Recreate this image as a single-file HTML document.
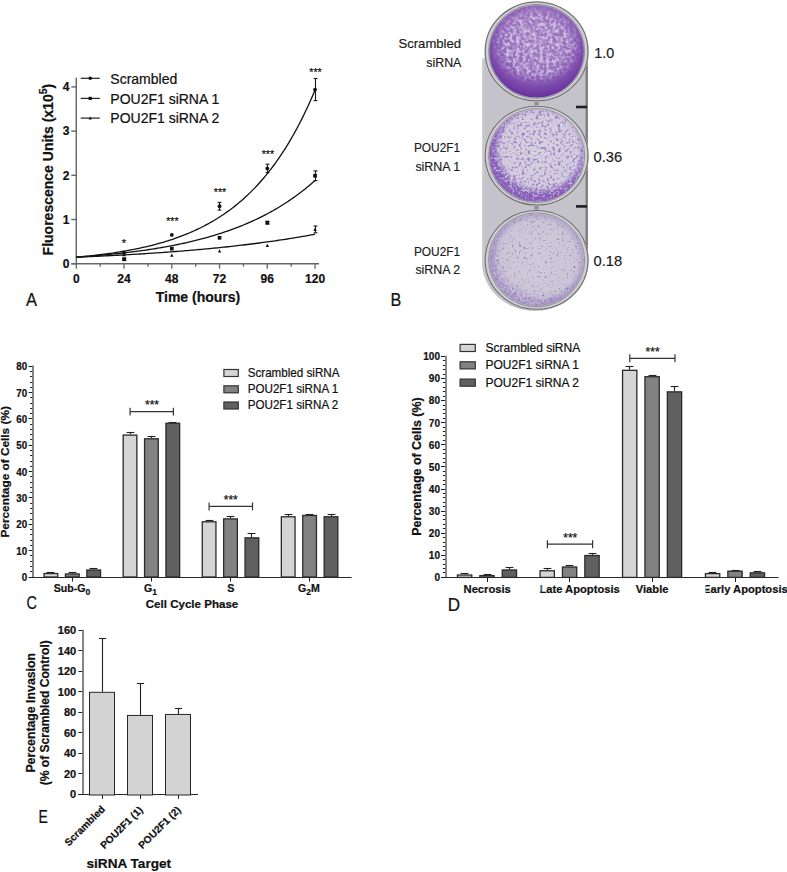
<!DOCTYPE html>
<html><head><meta charset="utf-8"><style>
html,body{margin:0;padding:0;background:#fff;width:787px;height:872px;overflow:hidden}
svg{display:block;font-family:"Liberation Sans", sans-serif}
text{stroke:#111;stroke-width:0.22px;paint-order:stroke}
text.cal{stroke-width:0.16px}
</style></head><body>
<svg width="787" height="872" viewBox="0 0 787 872">
<rect width="787" height="872" fill="#fff"/>
<line x1="76.30" y1="77.80" x2="76.30" y2="264.40" stroke="#666" stroke-width="1.45"/>
<line x1="71.30" y1="263.70" x2="319.00" y2="263.70" stroke="#666" stroke-width="1.45"/>
<line x1="71.30" y1="263.70" x2="76.30" y2="263.70" stroke="#666" stroke-width="1.4"/>
<text x="69.50" y="268.00" font-size="12" font-weight="bold" text-anchor="end" fill="#111" >0</text>
<line x1="71.30" y1="219.50" x2="76.30" y2="219.50" stroke="#666" stroke-width="1.4"/>
<text x="69.50" y="223.80" font-size="12" font-weight="bold" text-anchor="end" fill="#111" >1</text>
<line x1="71.30" y1="175.30" x2="76.30" y2="175.30" stroke="#666" stroke-width="1.4"/>
<text x="69.50" y="179.60" font-size="12" font-weight="bold" text-anchor="end" fill="#111" >2</text>
<line x1="71.30" y1="131.10" x2="76.30" y2="131.10" stroke="#666" stroke-width="1.4"/>
<text x="69.50" y="135.40" font-size="12" font-weight="bold" text-anchor="end" fill="#111" >3</text>
<line x1="71.30" y1="86.90" x2="76.30" y2="86.90" stroke="#666" stroke-width="1.4"/>
<text x="69.50" y="91.20" font-size="12" font-weight="bold" text-anchor="end" fill="#111" >4</text>
<line x1="76.30" y1="263.70" x2="76.30" y2="268.70" stroke="#666" stroke-width="1.3"/>
<text x="76.30" y="283.20" font-size="12" font-weight="bold" text-anchor="middle" fill="#111" >0</text>
<line x1="100.17" y1="263.70" x2="100.17" y2="266.70" stroke="#666" stroke-width="1.3"/>
<line x1="124.05" y1="263.70" x2="124.05" y2="268.70" stroke="#666" stroke-width="1.3"/>
<text x="124.05" y="283.20" font-size="12" font-weight="bold" text-anchor="middle" fill="#111" >24</text>
<line x1="147.93" y1="263.70" x2="147.93" y2="266.70" stroke="#666" stroke-width="1.3"/>
<line x1="171.80" y1="263.70" x2="171.80" y2="268.70" stroke="#666" stroke-width="1.3"/>
<text x="171.80" y="283.20" font-size="12" font-weight="bold" text-anchor="middle" fill="#111" >48</text>
<line x1="195.68" y1="263.70" x2="195.68" y2="266.70" stroke="#666" stroke-width="1.3"/>
<line x1="219.55" y1="263.70" x2="219.55" y2="268.70" stroke="#666" stroke-width="1.3"/>
<text x="219.55" y="283.20" font-size="12" font-weight="bold" text-anchor="middle" fill="#111" >72</text>
<line x1="243.43" y1="263.70" x2="243.43" y2="266.70" stroke="#666" stroke-width="1.3"/>
<line x1="267.30" y1="263.70" x2="267.30" y2="268.70" stroke="#666" stroke-width="1.3"/>
<text x="267.30" y="283.20" font-size="12" font-weight="bold" text-anchor="middle" fill="#111" >96</text>
<line x1="291.18" y1="263.70" x2="291.18" y2="266.70" stroke="#666" stroke-width="1.3"/>
<line x1="315.05" y1="263.70" x2="315.05" y2="268.70" stroke="#666" stroke-width="1.3"/>
<text x="315.05" y="283.20" font-size="12" font-weight="bold" text-anchor="middle" fill="#111" >120</text>
<text transform="translate(52.5,169.6) rotate(-90)" font-size="14" font-weight="bold" text-anchor="middle" fill="#111">Fluorescence Units (x10<tspan font-size="10.5" dy="-6">5</tspan><tspan dy="6">)</tspan></text>
<text x="198.00" y="301.70" font-size="14" font-weight="bold" text-anchor="middle" fill="#111" >Time (hours)</text>
<text transform="translate(26.1,306.0) scale(0.92,1)" font-size="18" fill="#111" stroke="#111" stroke-width="0.21">A</text>
<polyline points="76.30,257.20 78.29,257.02 80.28,256.84 82.27,256.65 84.26,256.45 86.25,256.25 88.24,256.04 90.23,255.83 92.22,255.61 94.21,255.39 96.20,255.16 98.19,254.92 100.17,254.68 102.16,254.42 104.15,254.17 106.14,253.90 108.13,253.63 110.12,253.35 112.11,253.06 114.10,252.77 116.09,252.47 118.08,252.15 120.07,251.83 122.06,251.50 124.05,251.17 126.04,250.82 128.03,250.46 130.02,250.09 132.01,249.71 134.00,249.33 135.99,248.93 137.98,248.52 139.97,248.10 141.96,247.66 143.95,247.22 145.94,246.76 147.93,246.29 149.91,245.81 151.90,245.31 153.89,244.80 155.88,244.27 157.87,243.73 159.86,243.18 161.85,242.61 163.84,242.03 165.83,241.42 167.82,240.81 169.81,240.17 171.80,239.52 173.79,238.85 175.78,238.16 177.77,237.45 179.76,236.72 181.75,235.97 183.74,235.20 185.73,234.41 187.72,233.60 189.71,232.76 191.70,231.90 193.69,231.02 195.68,230.11 197.66,229.18 199.65,228.22 201.64,227.24 203.63,226.22 205.62,225.18 207.61,224.11 209.60,223.01 211.59,221.89 213.58,220.72 215.57,219.53 217.56,218.31 219.55,217.05 221.54,215.75 223.53,214.42 225.52,213.05 227.51,211.65 229.50,210.20 231.49,208.72 233.48,207.19 235.47,205.62 237.46,204.01 239.45,202.35 241.44,200.65 243.43,198.90 245.41,197.10 247.40,195.25 249.39,193.35 251.38,191.40 253.37,189.39 255.36,187.33 257.35,185.21 259.34,183.03 261.33,180.79 263.32,178.49 265.31,176.12 267.30,173.69 269.29,171.20 271.28,168.63 273.27,165.99 275.26,163.28 277.25,160.49 279.24,157.62 281.23,154.68 283.22,151.65 285.21,148.54 287.20,145.35 289.19,142.06 291.18,138.68 293.16,135.21 295.15,131.65 297.14,127.98 299.13,124.21 301.12,120.34 303.11,116.36 305.10,112.27 307.09,108.07 309.08,103.75 311.07,99.31 313.06,94.75 315.05,90.06" fill="none" stroke="#111" stroke-width="1.3"/>
<polyline points="76.30,257.20 78.29,257.06 80.28,256.92 82.27,256.78 84.26,256.63 86.25,256.47 88.24,256.32 90.23,256.16 92.22,256.00 94.21,255.83 96.20,255.67 98.19,255.49 100.17,255.32 102.16,255.14 104.15,254.95 106.14,254.76 108.13,254.57 110.12,254.38 112.11,254.18 114.10,253.97 116.09,253.76 118.08,253.55 120.07,253.33 122.06,253.11 124.05,252.88 126.04,252.65 128.03,252.41 130.02,252.17 132.01,251.92 134.00,251.67 135.99,251.41 137.98,251.15 139.97,250.88 141.96,250.60 143.95,250.32 145.94,250.04 147.93,249.74 149.91,249.44 151.90,249.14 153.89,248.82 155.88,248.50 157.87,248.18 159.86,247.85 161.85,247.50 163.84,247.16 165.83,246.80 167.82,246.44 169.81,246.07 171.80,245.69 173.79,245.30 175.78,244.91 177.77,244.51 179.76,244.09 181.75,243.67 183.74,243.24 185.73,242.80 187.72,242.35 189.71,241.90 191.70,241.43 193.69,240.95 195.68,240.46 197.66,239.96 199.65,239.45 201.64,238.93 203.63,238.40 205.62,237.86 207.61,237.30 209.60,236.74 211.59,236.16 213.58,235.57 215.57,234.96 217.56,234.35 219.55,233.72 221.54,233.07 223.53,232.41 225.52,231.74 227.51,231.06 229.50,230.36 231.49,229.64 233.48,228.91 235.47,228.16 237.46,227.40 239.45,226.62 241.44,225.82 243.43,225.01 245.41,224.18 247.40,223.33 249.39,222.47 251.38,221.58 253.37,220.68 255.36,219.75 257.35,218.81 259.34,217.85 261.33,216.86 263.32,215.86 265.31,214.83 267.30,213.78 269.29,212.71 271.28,211.61 273.27,210.49 275.26,209.35 277.25,208.19 279.24,206.99 281.23,205.78 283.22,204.53 285.21,203.26 287.20,201.97 289.19,200.64 291.18,199.29 293.16,197.90 295.15,196.49 297.14,195.05 299.13,193.57 301.12,192.07 303.11,190.53 305.10,188.96 307.09,187.36 309.08,185.72 311.07,184.04 313.06,182.33 315.05,180.59" fill="none" stroke="#111" stroke-width="1.3"/>
<polyline points="76.30,257.20 78.29,257.12 80.28,257.04 82.27,256.95 84.26,256.87 86.25,256.78 88.24,256.69 90.23,256.60 92.22,256.51 94.21,256.42 96.20,256.33 98.19,256.24 100.17,256.14 102.16,256.05 104.15,255.95 106.14,255.85 108.13,255.75 110.12,255.65 112.11,255.55 114.10,255.45 116.09,255.34 118.08,255.23 120.07,255.13 122.06,255.02 124.05,254.91 126.04,254.80 128.03,254.68 130.02,254.57 132.01,254.45 134.00,254.34 135.99,254.22 137.98,254.10 139.97,253.98 141.96,253.85 143.95,253.73 145.94,253.60 147.93,253.47 149.91,253.34 151.90,253.21 153.89,253.08 155.88,252.94 157.87,252.81 159.86,252.67 161.85,252.53 163.84,252.39 165.83,252.25 167.82,252.10 169.81,251.95 171.80,251.80 173.79,251.65 175.78,251.50 177.77,251.35 179.76,251.19 181.75,251.03 183.74,250.87 185.73,250.71 187.72,250.54 189.71,250.38 191.70,250.21 193.69,250.04 195.68,249.86 197.66,249.69 199.65,249.51 201.64,249.33 203.63,249.15 205.62,248.96 207.61,248.78 209.60,248.59 211.59,248.39 213.58,248.20 215.57,248.00 217.56,247.81 219.55,247.60 221.54,247.40 223.53,247.19 225.52,246.98 227.51,246.77 229.50,246.56 231.49,246.34 233.48,246.12 235.47,245.90 237.46,245.67 239.45,245.44 241.44,245.21 243.43,244.98 245.41,244.74 247.40,244.50 249.39,244.25 251.38,244.01 253.37,243.76 255.36,243.51 257.35,243.25 259.34,242.99 261.33,242.73 263.32,242.46 265.31,242.19 267.30,241.92 269.29,241.64 271.28,241.36 273.27,241.08 275.26,240.79 277.25,240.50 279.24,240.21 281.23,239.91 283.22,239.61 285.21,239.30 287.20,239.00 289.19,238.68 291.18,238.36 293.16,238.04 295.15,237.72 297.14,237.39 299.13,237.05 301.12,236.72 303.11,236.37 305.10,236.03 307.09,235.68 309.08,235.32 311.07,234.96 313.06,234.60 315.05,234.23" fill="none" stroke="#111" stroke-width="1.3"/>
<circle cx="124.05" cy="252.65" r="1.9" fill="#111"/>
<circle cx="171.80" cy="234.97" r="1.9" fill="#111"/>
<line x1="219.50" y1="202.39" x2="219.50" y2="210.09" stroke="#1a1a1a" stroke-width="1.1"/>
<line x1="217.60" y1="202.39" x2="221.40" y2="202.39" stroke="#1a1a1a" stroke-width="1.1"/>
<line x1="217.60" y1="210.09" x2="221.40" y2="210.09" stroke="#1a1a1a" stroke-width="1.1"/>
<circle cx="219.55" cy="206.24" r="1.9" fill="#111"/>
<line x1="267.50" y1="164.21" x2="267.50" y2="172.60" stroke="#1a1a1a" stroke-width="1.1"/>
<line x1="265.60" y1="164.21" x2="269.40" y2="164.21" stroke="#1a1a1a" stroke-width="1.1"/>
<line x1="265.60" y1="172.60" x2="269.40" y2="172.60" stroke="#1a1a1a" stroke-width="1.1"/>
<circle cx="267.30" cy="168.40" r="1.9" fill="#111"/>
<line x1="315.50" y1="78.50" x2="315.50" y2="100.60" stroke="#1a1a1a" stroke-width="1.1"/>
<line x1="313.60" y1="78.50" x2="317.40" y2="78.50" stroke="#1a1a1a" stroke-width="1.1"/>
<line x1="313.60" y1="100.60" x2="317.40" y2="100.60" stroke="#1a1a1a" stroke-width="1.1"/>
<circle cx="315.05" cy="89.55" r="1.9" fill="#111"/>
<line x1="124.50" y1="258.18" x2="124.50" y2="260.38" stroke="#1a1a1a" stroke-width="1.1"/>
<line x1="122.50" y1="258.18" x2="126.50" y2="258.18" stroke="#1a1a1a" stroke-width="1.1"/>
<line x1="122.50" y1="260.38" x2="126.50" y2="260.38" stroke="#1a1a1a" stroke-width="1.1"/>
<rect x="122.20" y="257.43" width="3.7" height="3.7" fill="#111"/>
<rect x="169.95" y="246.82" width="3.7" height="3.7" fill="#111"/>
<rect x="217.70" y="235.95" width="3.7" height="3.7" fill="#111"/>
<line x1="267.50" y1="221.36" x2="267.50" y2="224.01" stroke="#1a1a1a" stroke-width="1.1"/>
<line x1="265.50" y1="221.36" x2="269.50" y2="221.36" stroke="#1a1a1a" stroke-width="1.1"/>
<line x1="265.50" y1="224.01" x2="269.50" y2="224.01" stroke="#1a1a1a" stroke-width="1.1"/>
<rect x="265.45" y="220.83" width="3.7" height="3.7" fill="#111"/>
<line x1="315.50" y1="170.88" x2="315.50" y2="180.60" stroke="#1a1a1a" stroke-width="1.1"/>
<line x1="313.50" y1="170.88" x2="317.50" y2="170.88" stroke="#1a1a1a" stroke-width="1.1"/>
<line x1="313.50" y1="180.60" x2="317.50" y2="180.60" stroke="#1a1a1a" stroke-width="1.1"/>
<rect x="313.20" y="173.89" width="3.7" height="3.7" fill="#111"/>
<polygon points="124.05,253.06 122.35,256.36 125.75,256.36" fill="#111"/>
<polygon points="171.80,253.50 170.10,256.80 173.50,256.80" fill="#111"/>
<polygon points="219.55,249.21 217.85,252.51 221.25,252.51" fill="#111"/>
<polygon points="267.30,243.78 265.60,247.08 269.00,247.08" fill="#111"/>
<line x1="315.50" y1="226.00" x2="315.50" y2="232.80" stroke="#1a1a1a" stroke-width="1.1"/>
<line x1="313.60" y1="226.00" x2="317.40" y2="226.00" stroke="#1a1a1a" stroke-width="1.1"/>
<line x1="313.60" y1="232.80" x2="317.40" y2="232.80" stroke="#1a1a1a" stroke-width="1.1"/>
<polygon points="315.05,227.60 313.35,230.90 316.75,230.90" fill="#111"/>
<text x="123.90" y="247.30" font-size="11" font-weight="normal" text-anchor="middle" fill="#111" stroke="#111" stroke-width="0.35">*</text>
<text x="172.40" y="225.36" font-size="10.6" font-weight="normal" text-anchor="middle" fill="#111" stroke="#111" stroke-width="0.35">***</text>
<text x="220.00" y="196.46" font-size="10.6" font-weight="normal" text-anchor="middle" fill="#111" stroke="#111" stroke-width="0.35">***</text>
<text x="267.90" y="158.26" font-size="10.6" font-weight="normal" text-anchor="middle" fill="#111" stroke="#111" stroke-width="0.35">***</text>
<text x="315.50" y="76.26" font-size="10.6" font-weight="normal" text-anchor="middle" fill="#111" stroke="#111" stroke-width="0.35">***</text>
<line x1="80.70" y1="78.30" x2="99.80" y2="78.30" stroke="#222" stroke-width="1.2"/>
<circle cx="90.20" cy="78.30" r="1.8" fill="#111"/>
<line x1="80.70" y1="98.40" x2="99.80" y2="98.40" stroke="#222" stroke-width="1.2"/>
<rect x="88.60" y="96.80" width="3.2" height="3.2" fill="#111"/>
<line x1="80.70" y1="118.10" x2="99.80" y2="118.10" stroke="#222" stroke-width="1.2"/>
<polygon points="90.20,116.40 88.60,119.50 91.80,119.50" fill="#111"/>
<text x="110.30" y="83.60" font-size="14" font-weight="normal" text-anchor="start" fill="#111" >Scrambled</text>
<text x="110.30" y="103.70" font-size="14" font-weight="normal" text-anchor="start" fill="#111" >POU2F1 siRNA 1</text>
<text x="110.30" y="123.40" font-size="14" font-weight="normal" text-anchor="start" fill="#111" >POU2F1 siRNA 2</text>
<defs>
<radialGradient id="g1" cx="50%" cy="38%" r="60%"><stop offset="0" stop-color="rgb(160,125,195)"/><stop offset="0.55" stop-color="rgb(150,110,188)"/><stop offset="0.8" stop-color="rgb(128,80,175)"/><stop offset="1" stop-color="rgb(108,52,160)"/></radialGradient>
<radialGradient id="g2" cx="52%" cy="46%" r="52%"><stop offset="0" stop-color="rgb(214,209,225)"/><stop offset="0.8" stop-color="rgb(210,204,222)"/><stop offset="0.95" stop-color="rgb(185,165,210)"/><stop offset="1" stop-color="rgb(160,125,198)"/></radialGradient>
<radialGradient id="ring2" cx="54%" cy="42%" r="53%"><stop offset="0" stop-color="#000"/><stop offset="0.78" stop-color="#000"/><stop offset="0.95" stop-color="#fff"/><stop offset="1" stop-color="#fff"/></radialGradient>
<mask id="mr2" maskContentUnits="userSpaceOnUse"><ellipse cx="536.6" cy="155.6" rx="47.2" ry="46.2" fill="url(#ring2)"/></mask>
<radialGradient id="ring3" cx="56%" cy="42%" r="54%"><stop offset="0" stop-color="#000"/><stop offset="0.8" stop-color="#000"/><stop offset="0.97" stop-color="#fff"/></radialGradient>
<mask id="mr3" maskContentUnits="userSpaceOnUse"><ellipse cx="536.6" cy="259.9" rx="47.2" ry="46.2" fill="url(#ring3)"/></mask>
<radialGradient id="g3" cx="50%" cy="50%" r="50%"><stop offset="0" stop-color="rgb(208,203,218)"/><stop offset="0.85" stop-color="rgb(203,197,215)"/><stop offset="1" stop-color="rgb(178,165,202)"/></radialGradient>
<filter id="mott1" x="0" y="0" width="100%" height="100%" color-interpolation-filters="sRGB"><feTurbulence type="fractalNoise" baseFrequency="0.3" numOctaves="3" seed="3"/><feColorMatrix type="matrix" values="0 0 0 0 0.84  0 0 0 0 0.78  0 0 0 0 0.90  3.2 0 0 0 -1.2"/><feComposite in2="SourceGraphic" operator="in"/></filter>
<filter id="mott2" x="0" y="0" width="100%" height="100%" color-interpolation-filters="sRGB"><feTurbulence type="fractalNoise" baseFrequency="0.36" numOctaves="2" seed="7"/><feColorMatrix type="matrix" values="0 0 0 0 0.60  0 0 0 0 0.48  0 0 0 0 0.76  5.0 0 0 0 -2.6"/><feComposite in2="SourceGraphic" operator="in"/></filter>
<filter id="mott2b" x="0" y="0" width="100%" height="100%" color-interpolation-filters="sRGB"><feTurbulence type="fractalNoise" baseFrequency="0.4" numOctaves="2" seed="17"/><feColorMatrix type="matrix" values="0 0 0 0 0.52  0 0 0 0 0.36  0 0 0 0 0.72  5.0 0 0 0 -1.7"/><feComposite in2="SourceGraphic" operator="in"/></filter>
<filter id="mott3" x="0" y="0" width="100%" height="100%" color-interpolation-filters="sRGB"><feTurbulence type="fractalNoise" baseFrequency="0.42" numOctaves="2" seed="11"/><feColorMatrix type="matrix" values="0 0 0 0 0.52  0 0 0 0 0.46  0 0 0 0 0.64  4.5 0 0 0 -2.75"/><feComposite in2="SourceGraphic" operator="in"/></filter>
<radialGradient id="fade"><stop offset="0" stop-color="#fff"/><stop offset="0.7" stop-color="#fff"/><stop offset="1" stop-color="#000"/></radialGradient>
<mask id="m1" maskContentUnits="userSpaceOnUse"><ellipse cx="536.6" cy="45" rx="46" ry="40" fill="url(#fade)"/></mask>
</defs>
<path d="M482,70 Q482,56 490,54 L580,54 Q588,56 588,70 L588,262 A53,49 0 0 1 482,262 Z" fill="rgb(196,195,201)"/>
<rect x="585.6" y="58" width="2.2" height="210" fill="rgb(120,120,126)"/>
<rect x="482" y="58" width="1.6" height="210" fill="rgb(205,205,210)"/>
<ellipse cx="536.6" cy="51.4" rx="52.3" ry="50.3" fill="rgb(206,206,210)"/>
<ellipse cx="536.6" cy="51.4" rx="51.4" ry="49.4" fill="none" stroke="rgb(110,110,116)" stroke-width="1.1"/>
<ellipse cx="536.6" cy="51.4" rx="48.0" ry="47.0" fill="none" stroke="rgb(135,135,140)" stroke-width="0.9"/>
<ellipse cx="536.6" cy="155.6" rx="52.3" ry="50.3" fill="rgb(206,206,210)"/>
<ellipse cx="536.6" cy="155.6" rx="51.4" ry="49.4" fill="none" stroke="rgb(110,110,116)" stroke-width="1.1"/>
<ellipse cx="536.6" cy="155.6" rx="48.0" ry="47.0" fill="none" stroke="rgb(135,135,140)" stroke-width="0.9"/>
<ellipse cx="536.6" cy="259.9" rx="52.3" ry="50.3" fill="rgb(206,206,210)"/>
<ellipse cx="536.6" cy="259.9" rx="51.4" ry="49.4" fill="none" stroke="rgb(110,110,116)" stroke-width="1.1"/>
<ellipse cx="536.6" cy="259.9" rx="48.0" ry="47.0" fill="none" stroke="rgb(135,135,140)" stroke-width="0.9"/>
<rect x="534.5" y="101.8" width="4" height="3.6" fill="rgb(140,140,145)"/>
<rect x="534.5" y="206.0" width="4" height="3.6" fill="rgb(140,140,145)"/>
<rect x="576" y="105.7" width="11" height="2.6" fill="rgb(30,30,30)"/>
<rect x="576" y="205.1" width="11" height="2.6" fill="rgb(30,30,30)"/>
<ellipse cx="536.6" cy="51.4" rx="47.2" ry="46.2" fill="url(#g1)"/>
<g mask="url(#m1)"><ellipse cx="536.6" cy="51.4" rx="47" ry="46" fill="#fff" filter="url(#mott1)" opacity="0.9"/></g>
<ellipse cx="536.6" cy="155.6" rx="47.2" ry="46.2" fill="url(#g2)"/>
<ellipse cx="536.6" cy="155.6" rx="47" ry="46" fill="#fff" filter="url(#mott2)" opacity="0.95"/>
<g mask="url(#mr2)"><ellipse cx="536.6" cy="155.6" rx="47.2" ry="46.2" fill="#fff" filter="url(#mott2b)"/></g>
<ellipse cx="536.6" cy="259.9" rx="47.2" ry="46.2" fill="url(#g3)"/>
<ellipse cx="536.6" cy="259.9" rx="47" ry="46" fill="#fff" filter="url(#mott3)" opacity="0.9"/>
<g mask="url(#mr3)" opacity="0.35"><ellipse cx="536.6" cy="259.9" rx="47.2" ry="46.2" fill="#fff" filter="url(#mott2b)"/></g>
<text x="461.00" y="48.30" font-size="13" font-weight="normal" text-anchor="end" fill="#1a1a1a" textLength="62.5" lengthAdjust="spacingAndGlyphs" class="cal">Scrambled</text>
<text x="461.30" y="66.60" font-size="13" font-weight="normal" text-anchor="end" fill="#1a1a1a" textLength="35" lengthAdjust="spacingAndGlyphs" class="cal">siRNA</text>
<text x="460.20" y="152.30" font-size="13" font-weight="normal" text-anchor="end" fill="#1a1a1a" textLength="46.3" lengthAdjust="spacingAndGlyphs" class="cal">POU2F1</text>
<text x="460.20" y="170.60" font-size="13" font-weight="normal" text-anchor="end" fill="#1a1a1a" textLength="44.8" lengthAdjust="spacingAndGlyphs" class="cal">siRNA 1</text>
<text x="460.20" y="256.30" font-size="13" font-weight="normal" text-anchor="end" fill="#1a1a1a" textLength="46.3" lengthAdjust="spacingAndGlyphs" class="cal">POU2F1</text>
<text x="460.20" y="274.40" font-size="13" font-weight="normal" text-anchor="end" fill="#1a1a1a" textLength="44.8" lengthAdjust="spacingAndGlyphs" class="cal">siRNA 2</text>
<text x="594.30" y="58.40" font-size="15" font-weight="normal" text-anchor="start" fill="#1a1a1a" textLength="20" lengthAdjust="spacingAndGlyphs" class="cal">1.0</text>
<text x="593.60" y="162.10" font-size="15" font-weight="normal" text-anchor="start" fill="#1a1a1a" textLength="28.6" lengthAdjust="spacingAndGlyphs" class="cal">0.36</text>
<text x="593.60" y="265.90" font-size="15" font-weight="normal" text-anchor="start" fill="#1a1a1a" textLength="28.6" lengthAdjust="spacingAndGlyphs" class="cal">0.18</text>
<text transform="translate(390.4,305.8) scale(0.9,1)" font-size="18" fill="#111" stroke="#111" stroke-width="0.22">B</text>
<line x1="33.00" y1="365.60" x2="33.00" y2="577.00" stroke="#858585" stroke-width="2.0"/>
<line x1="32.00" y1="577.50" x2="351.60" y2="577.50" stroke="#2a2a2a" stroke-width="1.1"/>
<line x1="28.70" y1="577.50" x2="32.20" y2="577.50" stroke="#1e1e1e" stroke-width="1.0"/>
<text transform="translate(27.10,581.10) scale(0.96,1)" font-size="10.2" font-weight="bold" text-anchor="end" fill="#111">0</text>
<line x1="30.10" y1="571.50" x2="32.20" y2="571.50" stroke="#1e1e1e" stroke-width="1.0"/>
<line x1="30.10" y1="566.50" x2="32.20" y2="566.50" stroke="#1e1e1e" stroke-width="1.0"/>
<line x1="30.10" y1="561.50" x2="32.20" y2="561.50" stroke="#1e1e1e" stroke-width="1.0"/>
<line x1="30.10" y1="555.50" x2="32.20" y2="555.50" stroke="#1e1e1e" stroke-width="1.0"/>
<line x1="28.70" y1="550.50" x2="32.20" y2="550.50" stroke="#1e1e1e" stroke-width="1.0"/>
<text transform="translate(27.10,554.75) scale(0.96,1)" font-size="10.2" font-weight="bold" text-anchor="end" fill="#111">10</text>
<line x1="30.10" y1="545.50" x2="32.20" y2="545.50" stroke="#1e1e1e" stroke-width="1.0"/>
<line x1="30.10" y1="540.50" x2="32.20" y2="540.50" stroke="#1e1e1e" stroke-width="1.0"/>
<line x1="30.10" y1="534.50" x2="32.20" y2="534.50" stroke="#1e1e1e" stroke-width="1.0"/>
<line x1="30.10" y1="529.50" x2="32.20" y2="529.50" stroke="#1e1e1e" stroke-width="1.0"/>
<line x1="28.70" y1="524.50" x2="32.20" y2="524.50" stroke="#1e1e1e" stroke-width="1.0"/>
<text transform="translate(27.10,528.40) scale(0.96,1)" font-size="10.2" font-weight="bold" text-anchor="end" fill="#111">20</text>
<line x1="30.10" y1="519.50" x2="32.20" y2="519.50" stroke="#1e1e1e" stroke-width="1.0"/>
<line x1="30.10" y1="513.50" x2="32.20" y2="513.50" stroke="#1e1e1e" stroke-width="1.0"/>
<line x1="30.10" y1="508.50" x2="32.20" y2="508.50" stroke="#1e1e1e" stroke-width="1.0"/>
<line x1="30.10" y1="503.50" x2="32.20" y2="503.50" stroke="#1e1e1e" stroke-width="1.0"/>
<line x1="28.70" y1="497.50" x2="32.20" y2="497.50" stroke="#1e1e1e" stroke-width="1.0"/>
<text transform="translate(27.10,502.05) scale(0.96,1)" font-size="10.2" font-weight="bold" text-anchor="end" fill="#111">30</text>
<line x1="30.10" y1="492.50" x2="32.20" y2="492.50" stroke="#1e1e1e" stroke-width="1.0"/>
<line x1="30.10" y1="487.50" x2="32.20" y2="487.50" stroke="#1e1e1e" stroke-width="1.0"/>
<line x1="30.10" y1="482.50" x2="32.20" y2="482.50" stroke="#1e1e1e" stroke-width="1.0"/>
<line x1="30.10" y1="476.50" x2="32.20" y2="476.50" stroke="#1e1e1e" stroke-width="1.0"/>
<line x1="28.70" y1="471.50" x2="32.20" y2="471.50" stroke="#1e1e1e" stroke-width="1.0"/>
<text transform="translate(27.10,475.70) scale(0.96,1)" font-size="10.2" font-weight="bold" text-anchor="end" fill="#111">40</text>
<line x1="30.10" y1="466.50" x2="32.20" y2="466.50" stroke="#1e1e1e" stroke-width="1.0"/>
<line x1="30.10" y1="461.50" x2="32.20" y2="461.50" stroke="#1e1e1e" stroke-width="1.0"/>
<line x1="30.10" y1="455.50" x2="32.20" y2="455.50" stroke="#1e1e1e" stroke-width="1.0"/>
<line x1="30.10" y1="450.50" x2="32.20" y2="450.50" stroke="#1e1e1e" stroke-width="1.0"/>
<line x1="28.70" y1="445.50" x2="32.20" y2="445.50" stroke="#1e1e1e" stroke-width="1.0"/>
<text transform="translate(27.10,449.35) scale(0.96,1)" font-size="10.2" font-weight="bold" text-anchor="end" fill="#111">50</text>
<line x1="30.10" y1="439.50" x2="32.20" y2="439.50" stroke="#1e1e1e" stroke-width="1.0"/>
<line x1="30.10" y1="434.50" x2="32.20" y2="434.50" stroke="#1e1e1e" stroke-width="1.0"/>
<line x1="30.10" y1="429.50" x2="32.20" y2="429.50" stroke="#1e1e1e" stroke-width="1.0"/>
<line x1="30.10" y1="424.50" x2="32.20" y2="424.50" stroke="#1e1e1e" stroke-width="1.0"/>
<line x1="28.70" y1="418.50" x2="32.20" y2="418.50" stroke="#1e1e1e" stroke-width="1.0"/>
<text transform="translate(27.10,423.00) scale(0.96,1)" font-size="10.2" font-weight="bold" text-anchor="end" fill="#111">60</text>
<line x1="30.10" y1="413.50" x2="32.20" y2="413.50" stroke="#1e1e1e" stroke-width="1.0"/>
<line x1="30.10" y1="408.50" x2="32.20" y2="408.50" stroke="#1e1e1e" stroke-width="1.0"/>
<line x1="30.10" y1="403.50" x2="32.20" y2="403.50" stroke="#1e1e1e" stroke-width="1.0"/>
<line x1="30.10" y1="397.50" x2="32.20" y2="397.50" stroke="#1e1e1e" stroke-width="1.0"/>
<line x1="28.70" y1="392.50" x2="32.20" y2="392.50" stroke="#1e1e1e" stroke-width="1.0"/>
<text transform="translate(27.10,396.65) scale(0.96,1)" font-size="10.2" font-weight="bold" text-anchor="end" fill="#111">70</text>
<line x1="30.10" y1="387.50" x2="32.20" y2="387.50" stroke="#1e1e1e" stroke-width="1.0"/>
<line x1="30.10" y1="382.50" x2="32.20" y2="382.50" stroke="#1e1e1e" stroke-width="1.0"/>
<line x1="30.10" y1="376.50" x2="32.20" y2="376.50" stroke="#1e1e1e" stroke-width="1.0"/>
<line x1="30.10" y1="371.50" x2="32.20" y2="371.50" stroke="#1e1e1e" stroke-width="1.0"/>
<line x1="28.70" y1="366.50" x2="32.20" y2="366.50" stroke="#1e1e1e" stroke-width="1.0"/>
<text transform="translate(27.10,370.30) scale(0.96,1)" font-size="10.2" font-weight="bold" text-anchor="end" fill="#111">80</text>
<line x1="72.50" y1="578.00" x2="72.50" y2="581.50" stroke="#1e1e1e" stroke-width="1.0"/>
<line x1="50.50" y1="572.89" x2="50.50" y2="572.50" stroke="#222" stroke-width="1.1"/>
<line x1="46.60" y1="572.50" x2="54.40" y2="572.50" stroke="#222" stroke-width="1.1"/>
<rect x="44.05" y="573.54" width="13.70" height="3.46" fill="#d5d5d5" stroke="#2a2a2a" stroke-width="1.3"/>
<line x1="72.50" y1="573.31" x2="72.50" y2="572.50" stroke="#222" stroke-width="1.1"/>
<line x1="68.60" y1="572.50" x2="76.40" y2="572.50" stroke="#222" stroke-width="1.1"/>
<rect x="65.45" y="573.96" width="13.70" height="3.04" fill="#828282" stroke="#2a2a2a" stroke-width="1.3"/>
<line x1="93.50" y1="569.36" x2="93.50" y2="568.50" stroke="#222" stroke-width="1.1"/>
<line x1="89.60" y1="568.50" x2="97.40" y2="568.50" stroke="#222" stroke-width="1.1"/>
<rect x="86.85" y="570.01" width="13.70" height="6.99" fill="#606060" stroke="#2a2a2a" stroke-width="1.3"/>
<line x1="151.50" y1="578.00" x2="151.50" y2="581.50" stroke="#1e1e1e" stroke-width="1.0"/>
<line x1="130.50" y1="434.45" x2="130.50" y2="432.50" stroke="#222" stroke-width="1.1"/>
<line x1="126.60" y1="432.50" x2="134.40" y2="432.50" stroke="#222" stroke-width="1.1"/>
<rect x="123.15" y="435.10" width="13.70" height="141.90" fill="#d5d5d5" stroke="#2a2a2a" stroke-width="1.3"/>
<line x1="151.50" y1="438.14" x2="151.50" y2="436.50" stroke="#222" stroke-width="1.1"/>
<line x1="147.60" y1="436.50" x2="155.40" y2="436.50" stroke="#222" stroke-width="1.1"/>
<rect x="144.55" y="438.79" width="13.70" height="138.21" fill="#828282" stroke="#2a2a2a" stroke-width="1.3"/>
<line x1="172.50" y1="422.59" x2="172.50" y2="422.50" stroke="#222" stroke-width="1.1"/>
<line x1="168.60" y1="422.50" x2="176.40" y2="422.50" stroke="#222" stroke-width="1.1"/>
<rect x="165.95" y="423.24" width="13.70" height="153.76" fill="#606060" stroke="#2a2a2a" stroke-width="1.3"/>
<line x1="230.50" y1="578.00" x2="230.50" y2="581.50" stroke="#1e1e1e" stroke-width="1.0"/>
<line x1="209.50" y1="521.14" x2="209.50" y2="520.50" stroke="#222" stroke-width="1.1"/>
<line x1="205.60" y1="520.50" x2="213.40" y2="520.50" stroke="#222" stroke-width="1.1"/>
<rect x="202.25" y="521.79" width="13.70" height="55.21" fill="#d5d5d5" stroke="#2a2a2a" stroke-width="1.3"/>
<line x1="230.50" y1="518.24" x2="230.50" y2="516.50" stroke="#222" stroke-width="1.1"/>
<line x1="226.60" y1="516.50" x2="234.40" y2="516.50" stroke="#222" stroke-width="1.1"/>
<rect x="223.65" y="518.89" width="13.70" height="58.11" fill="#828282" stroke="#2a2a2a" stroke-width="1.3"/>
<line x1="251.50" y1="537.21" x2="251.50" y2="533.50" stroke="#222" stroke-width="1.1"/>
<line x1="247.60" y1="533.50" x2="255.40" y2="533.50" stroke="#222" stroke-width="1.1"/>
<rect x="245.05" y="537.86" width="13.70" height="39.14" fill="#606060" stroke="#2a2a2a" stroke-width="1.3"/>
<line x1="309.50" y1="578.00" x2="309.50" y2="581.50" stroke="#1e1e1e" stroke-width="1.0"/>
<line x1="288.50" y1="516.13" x2="288.50" y2="514.50" stroke="#222" stroke-width="1.1"/>
<line x1="284.60" y1="514.50" x2="292.40" y2="514.50" stroke="#222" stroke-width="1.1"/>
<rect x="281.35" y="516.78" width="13.70" height="60.22" fill="#d5d5d5" stroke="#2a2a2a" stroke-width="1.3"/>
<line x1="309.50" y1="514.81" x2="309.50" y2="514.50" stroke="#222" stroke-width="1.1"/>
<line x1="305.60" y1="514.50" x2="313.40" y2="514.50" stroke="#222" stroke-width="1.1"/>
<rect x="302.75" y="515.46" width="13.70" height="61.54" fill="#828282" stroke="#2a2a2a" stroke-width="1.3"/>
<line x1="331.50" y1="516.13" x2="331.50" y2="514.50" stroke="#222" stroke-width="1.1"/>
<line x1="327.60" y1="514.50" x2="335.40" y2="514.50" stroke="#222" stroke-width="1.1"/>
<rect x="324.15" y="516.78" width="13.70" height="60.22" fill="#606060" stroke="#2a2a2a" stroke-width="1.3"/>
<line x1="130.10" y1="411.60" x2="173.40" y2="411.60" stroke="#333" stroke-width="1.2"/>
<line x1="130.10" y1="407.70" x2="130.10" y2="415.50" stroke="#333" stroke-width="1.2"/>
<line x1="173.40" y1="407.70" x2="173.40" y2="415.50" stroke="#333" stroke-width="1.2"/>
<text x="152.00" y="409.40" font-size="12" font-weight="normal" text-anchor="middle" fill="#111" stroke="#111" stroke-width="0.35">***</text>
<line x1="209.10" y1="506.40" x2="252.50" y2="506.40" stroke="#333" stroke-width="1.2"/>
<line x1="209.10" y1="502.40" x2="209.10" y2="510.40" stroke="#333" stroke-width="1.2"/>
<line x1="252.50" y1="502.40" x2="252.50" y2="510.40" stroke="#333" stroke-width="1.2"/>
<text x="230.80" y="504.10" font-size="12" font-weight="normal" text-anchor="middle" fill="#111" stroke="#111" stroke-width="0.35">***</text>
<text x="72.0" y="591.7" font-size="10.6" font-weight="bold" text-anchor="middle" fill="#111">Sub-G<tspan font-size="8.6" dy="2.8">0</tspan></text>
<text x="150.6" y="591.7" font-size="10.6" font-weight="bold" text-anchor="middle" fill="#111">G<tspan font-size="8.6" dy="2.8">1</tspan></text>
<text x="230.80" y="591.70" font-size="10.6" font-weight="bold" text-anchor="middle" fill="#111" >S</text>
<text x="309" y="591.7" font-size="10.6" font-weight="bold" text-anchor="middle" fill="#111">G<tspan font-size="8.6" dy="2.8">2</tspan><tspan dy="-2.8">M</tspan></text>
<text x="192.00" y="607.60" font-size="11.2" font-weight="bold" text-anchor="middle" fill="#111" textLength="92.5" lengthAdjust="spacingAndGlyphs">Cell Cycle Phase</text>
<text transform="translate(9.00,471.85) rotate(-90)" font-size="11.2" font-weight="bold" text-anchor="middle" fill="#111" textLength="131.4" lengthAdjust="spacingAndGlyphs">Percentage of Cells (%)</text>
<text transform="translate(26.4,608.6) scale(0.8,1)" font-size="18" fill="#111" stroke="#111" stroke-width="0.24">C</text>
<rect x="223.9" y="369.50" width="14.4" height="7.0" fill="#d5d5d5" stroke="#333" stroke-width="1.2"/>
<rect x="223.9" y="385.80" width="14.4" height="7.0" fill="#828282" stroke="#333" stroke-width="1.2"/>
<rect x="223.9" y="402.00" width="14.4" height="7.0" fill="#606060" stroke="#333" stroke-width="1.2"/>
<text transform="translate(247.70,376.70) scale(0.97,1)" font-size="12" font-weight="normal" text-anchor="start" fill="#111">Scrambled siRNA</text>
<text transform="translate(247.70,393.00) scale(0.97,1)" font-size="12" font-weight="normal" text-anchor="start" fill="#111">POU2F1 siRNA 1</text>
<text transform="translate(247.70,409.30) scale(0.97,1)" font-size="12" font-weight="normal" text-anchor="start" fill="#111">POU2F1 siRNA 2</text>
<line x1="446.00" y1="355.80" x2="446.00" y2="577.40" stroke="#858585" stroke-width="1.9"/>
<line x1="445.00" y1="577.50" x2="778.50" y2="577.50" stroke="#2a2a2a" stroke-width="1.1"/>
<line x1="441.05" y1="577.50" x2="445.20" y2="577.50" stroke="#1e1e1e" stroke-width="1.0"/>
<text transform="translate(440.00,581.20) scale(0.95,1)" font-size="10.6" font-weight="bold" text-anchor="end" fill="#111">0</text>
<line x1="442.85" y1="572.50" x2="445.20" y2="572.50" stroke="#1e1e1e" stroke-width="1.0"/>
<line x1="442.85" y1="568.50" x2="445.20" y2="568.50" stroke="#1e1e1e" stroke-width="1.0"/>
<line x1="442.85" y1="564.50" x2="445.20" y2="564.50" stroke="#1e1e1e" stroke-width="1.0"/>
<line x1="442.85" y1="559.50" x2="445.20" y2="559.50" stroke="#1e1e1e" stroke-width="1.0"/>
<line x1="441.05" y1="555.50" x2="445.20" y2="555.50" stroke="#1e1e1e" stroke-width="1.0"/>
<text transform="translate(440.00,559.10) scale(0.95,1)" font-size="10.6" font-weight="bold" text-anchor="end" fill="#111">10</text>
<line x1="442.85" y1="550.50" x2="445.20" y2="550.50" stroke="#1e1e1e" stroke-width="1.0"/>
<line x1="442.85" y1="546.50" x2="445.20" y2="546.50" stroke="#1e1e1e" stroke-width="1.0"/>
<line x1="442.85" y1="542.50" x2="445.20" y2="542.50" stroke="#1e1e1e" stroke-width="1.0"/>
<line x1="442.85" y1="537.50" x2="445.20" y2="537.50" stroke="#1e1e1e" stroke-width="1.0"/>
<line x1="441.05" y1="533.50" x2="445.20" y2="533.50" stroke="#1e1e1e" stroke-width="1.0"/>
<text transform="translate(440.00,537.00) scale(0.95,1)" font-size="10.6" font-weight="bold" text-anchor="end" fill="#111">20</text>
<line x1="442.85" y1="528.50" x2="445.20" y2="528.50" stroke="#1e1e1e" stroke-width="1.0"/>
<line x1="442.85" y1="524.50" x2="445.20" y2="524.50" stroke="#1e1e1e" stroke-width="1.0"/>
<line x1="442.85" y1="519.50" x2="445.20" y2="519.50" stroke="#1e1e1e" stroke-width="1.0"/>
<line x1="442.85" y1="515.50" x2="445.20" y2="515.50" stroke="#1e1e1e" stroke-width="1.0"/>
<line x1="441.05" y1="511.50" x2="445.20" y2="511.50" stroke="#1e1e1e" stroke-width="1.0"/>
<text transform="translate(440.00,514.90) scale(0.95,1)" font-size="10.6" font-weight="bold" text-anchor="end" fill="#111">30</text>
<line x1="442.85" y1="506.50" x2="445.20" y2="506.50" stroke="#1e1e1e" stroke-width="1.0"/>
<line x1="442.85" y1="502.50" x2="445.20" y2="502.50" stroke="#1e1e1e" stroke-width="1.0"/>
<line x1="442.85" y1="497.50" x2="445.20" y2="497.50" stroke="#1e1e1e" stroke-width="1.0"/>
<line x1="442.85" y1="493.50" x2="445.20" y2="493.50" stroke="#1e1e1e" stroke-width="1.0"/>
<line x1="441.05" y1="489.50" x2="445.20" y2="489.50" stroke="#1e1e1e" stroke-width="1.0"/>
<text transform="translate(440.00,492.80) scale(0.95,1)" font-size="10.6" font-weight="bold" text-anchor="end" fill="#111">40</text>
<line x1="442.85" y1="484.50" x2="445.20" y2="484.50" stroke="#1e1e1e" stroke-width="1.0"/>
<line x1="442.85" y1="480.50" x2="445.20" y2="480.50" stroke="#1e1e1e" stroke-width="1.0"/>
<line x1="442.85" y1="475.50" x2="445.20" y2="475.50" stroke="#1e1e1e" stroke-width="1.0"/>
<line x1="442.85" y1="471.50" x2="445.20" y2="471.50" stroke="#1e1e1e" stroke-width="1.0"/>
<line x1="441.05" y1="466.50" x2="445.20" y2="466.50" stroke="#1e1e1e" stroke-width="1.0"/>
<text transform="translate(440.00,470.70) scale(0.95,1)" font-size="10.6" font-weight="bold" text-anchor="end" fill="#111">50</text>
<line x1="442.85" y1="462.50" x2="445.20" y2="462.50" stroke="#1e1e1e" stroke-width="1.0"/>
<line x1="442.85" y1="458.50" x2="445.20" y2="458.50" stroke="#1e1e1e" stroke-width="1.0"/>
<line x1="442.85" y1="453.50" x2="445.20" y2="453.50" stroke="#1e1e1e" stroke-width="1.0"/>
<line x1="442.85" y1="449.50" x2="445.20" y2="449.50" stroke="#1e1e1e" stroke-width="1.0"/>
<line x1="441.05" y1="444.50" x2="445.20" y2="444.50" stroke="#1e1e1e" stroke-width="1.0"/>
<text transform="translate(440.00,448.60) scale(0.95,1)" font-size="10.6" font-weight="bold" text-anchor="end" fill="#111">60</text>
<line x1="442.85" y1="440.50" x2="445.20" y2="440.50" stroke="#1e1e1e" stroke-width="1.0"/>
<line x1="442.85" y1="435.50" x2="445.20" y2="435.50" stroke="#1e1e1e" stroke-width="1.0"/>
<line x1="442.85" y1="431.50" x2="445.20" y2="431.50" stroke="#1e1e1e" stroke-width="1.0"/>
<line x1="442.85" y1="427.50" x2="445.20" y2="427.50" stroke="#1e1e1e" stroke-width="1.0"/>
<line x1="441.05" y1="422.50" x2="445.20" y2="422.50" stroke="#1e1e1e" stroke-width="1.0"/>
<text transform="translate(440.00,426.50) scale(0.95,1)" font-size="10.6" font-weight="bold" text-anchor="end" fill="#111">70</text>
<line x1="442.85" y1="418.50" x2="445.20" y2="418.50" stroke="#1e1e1e" stroke-width="1.0"/>
<line x1="442.85" y1="413.50" x2="445.20" y2="413.50" stroke="#1e1e1e" stroke-width="1.0"/>
<line x1="442.85" y1="409.50" x2="445.20" y2="409.50" stroke="#1e1e1e" stroke-width="1.0"/>
<line x1="442.85" y1="405.50" x2="445.20" y2="405.50" stroke="#1e1e1e" stroke-width="1.0"/>
<line x1="441.05" y1="400.50" x2="445.20" y2="400.50" stroke="#1e1e1e" stroke-width="1.0"/>
<text transform="translate(440.00,404.40) scale(0.95,1)" font-size="10.6" font-weight="bold" text-anchor="end" fill="#111">80</text>
<line x1="442.85" y1="396.50" x2="445.20" y2="396.50" stroke="#1e1e1e" stroke-width="1.0"/>
<line x1="442.85" y1="391.50" x2="445.20" y2="391.50" stroke="#1e1e1e" stroke-width="1.0"/>
<line x1="442.85" y1="387.50" x2="445.20" y2="387.50" stroke="#1e1e1e" stroke-width="1.0"/>
<line x1="442.85" y1="382.50" x2="445.20" y2="382.50" stroke="#1e1e1e" stroke-width="1.0"/>
<line x1="441.05" y1="378.50" x2="445.20" y2="378.50" stroke="#1e1e1e" stroke-width="1.0"/>
<text transform="translate(440.00,382.30) scale(0.95,1)" font-size="10.6" font-weight="bold" text-anchor="end" fill="#111">90</text>
<line x1="442.85" y1="374.50" x2="445.20" y2="374.50" stroke="#1e1e1e" stroke-width="1.0"/>
<line x1="442.85" y1="369.50" x2="445.20" y2="369.50" stroke="#1e1e1e" stroke-width="1.0"/>
<line x1="442.85" y1="365.50" x2="445.20" y2="365.50" stroke="#1e1e1e" stroke-width="1.0"/>
<line x1="442.85" y1="360.50" x2="445.20" y2="360.50" stroke="#1e1e1e" stroke-width="1.0"/>
<line x1="441.05" y1="356.50" x2="445.20" y2="356.50" stroke="#1e1e1e" stroke-width="1.0"/>
<text transform="translate(440.00,360.20) scale(0.95,1)" font-size="10.6" font-weight="bold" text-anchor="end" fill="#111">100</text>
<line x1="487.50" y1="578.00" x2="487.50" y2="582.00" stroke="#1e1e1e" stroke-width="1.0"/>
<line x1="464.50" y1="574.39" x2="464.50" y2="573.50" stroke="#222" stroke-width="1.1"/>
<line x1="460.60" y1="573.50" x2="468.40" y2="573.50" stroke="#222" stroke-width="1.1"/>
<rect x="457.45" y="575.04" width="14.30" height="2.36" fill="#d5d5d5" stroke="#2a2a2a" stroke-width="1.3"/>
<line x1="487.50" y1="574.97" x2="487.50" y2="574.50" stroke="#222" stroke-width="1.1"/>
<line x1="483.60" y1="574.50" x2="491.40" y2="574.50" stroke="#222" stroke-width="1.1"/>
<rect x="479.85" y="575.62" width="14.30" height="1.78" fill="#828282" stroke="#2a2a2a" stroke-width="1.3"/>
<line x1="509.50" y1="569.31" x2="509.50" y2="567.50" stroke="#222" stroke-width="1.1"/>
<line x1="505.60" y1="567.50" x2="513.40" y2="567.50" stroke="#222" stroke-width="1.1"/>
<rect x="502.25" y="569.96" width="14.30" height="7.44" fill="#606060" stroke="#2a2a2a" stroke-width="1.3"/>
<line x1="569.50" y1="578.00" x2="569.50" y2="582.00" stroke="#1e1e1e" stroke-width="1.0"/>
<line x1="547.50" y1="570.11" x2="547.50" y2="568.50" stroke="#222" stroke-width="1.1"/>
<line x1="543.60" y1="568.50" x2="551.40" y2="568.50" stroke="#222" stroke-width="1.1"/>
<rect x="540.05" y="570.76" width="14.30" height="6.64" fill="#d5d5d5" stroke="#2a2a2a" stroke-width="1.3"/>
<line x1="569.50" y1="566.35" x2="569.50" y2="565.50" stroke="#222" stroke-width="1.1"/>
<line x1="565.60" y1="565.50" x2="573.40" y2="565.50" stroke="#222" stroke-width="1.1"/>
<rect x="562.45" y="567.00" width="14.30" height="10.40" fill="#828282" stroke="#2a2a2a" stroke-width="1.3"/>
<line x1="592.50" y1="554.86" x2="592.50" y2="553.50" stroke="#222" stroke-width="1.1"/>
<line x1="588.60" y1="553.50" x2="596.40" y2="553.50" stroke="#222" stroke-width="1.1"/>
<rect x="584.85" y="555.51" width="14.30" height="21.89" fill="#606060" stroke="#2a2a2a" stroke-width="1.3"/>
<line x1="652.50" y1="578.00" x2="652.50" y2="582.00" stroke="#1e1e1e" stroke-width="1.0"/>
<line x1="629.50" y1="369.66" x2="629.50" y2="366.50" stroke="#222" stroke-width="1.1"/>
<line x1="625.60" y1="366.50" x2="633.40" y2="366.50" stroke="#222" stroke-width="1.1"/>
<rect x="622.55" y="370.31" width="14.30" height="207.09" fill="#d5d5d5" stroke="#2a2a2a" stroke-width="1.3"/>
<line x1="652.50" y1="376.07" x2="652.50" y2="375.50" stroke="#222" stroke-width="1.1"/>
<line x1="648.60" y1="375.50" x2="656.40" y2="375.50" stroke="#222" stroke-width="1.1"/>
<rect x="644.95" y="376.72" width="14.30" height="200.68" fill="#828282" stroke="#2a2a2a" stroke-width="1.3"/>
<line x1="674.50" y1="391.21" x2="674.50" y2="386.50" stroke="#222" stroke-width="1.1"/>
<line x1="670.60" y1="386.50" x2="678.40" y2="386.50" stroke="#222" stroke-width="1.1"/>
<rect x="667.35" y="391.86" width="14.30" height="185.54" fill="#606060" stroke="#2a2a2a" stroke-width="1.3"/>
<line x1="735.50" y1="578.00" x2="735.50" y2="582.00" stroke="#1e1e1e" stroke-width="1.0"/>
<line x1="712.50" y1="572.98" x2="712.50" y2="572.50" stroke="#222" stroke-width="1.1"/>
<line x1="708.60" y1="572.50" x2="716.40" y2="572.50" stroke="#222" stroke-width="1.1"/>
<rect x="705.45" y="573.63" width="14.30" height="3.77" fill="#d5d5d5" stroke="#2a2a2a" stroke-width="1.3"/>
<line x1="735.50" y1="570.55" x2="735.50" y2="570.50" stroke="#222" stroke-width="1.1"/>
<line x1="731.60" y1="570.50" x2="739.40" y2="570.50" stroke="#222" stroke-width="1.1"/>
<rect x="727.85" y="571.20" width="14.30" height="6.20" fill="#828282" stroke="#2a2a2a" stroke-width="1.3"/>
<line x1="757.50" y1="572.21" x2="757.50" y2="571.50" stroke="#222" stroke-width="1.1"/>
<line x1="753.60" y1="571.50" x2="761.40" y2="571.50" stroke="#222" stroke-width="1.1"/>
<rect x="750.25" y="572.86" width="14.30" height="4.54" fill="#606060" stroke="#2a2a2a" stroke-width="1.3"/>
<line x1="547.40" y1="544.20" x2="592.60" y2="544.20" stroke="#333" stroke-width="1.2"/>
<line x1="547.40" y1="540.20" x2="547.40" y2="548.20" stroke="#333" stroke-width="1.2"/>
<line x1="592.60" y1="540.20" x2="592.60" y2="548.20" stroke="#333" stroke-width="1.2"/>
<text x="570.30" y="541.80" font-size="12" font-weight="normal" text-anchor="middle" fill="#111" stroke="#111" stroke-width="0.35">***</text>
<line x1="629.80" y1="358.30" x2="675.00" y2="358.30" stroke="#333" stroke-width="1.2"/>
<line x1="629.80" y1="354.30" x2="629.80" y2="362.30" stroke="#333" stroke-width="1.2"/>
<line x1="675.00" y1="354.30" x2="675.00" y2="362.30" stroke="#333" stroke-width="1.2"/>
<text x="652.60" y="355.50" font-size="12" font-weight="normal" text-anchor="middle" fill="#111" stroke="#111" stroke-width="0.35">***</text>
<text x="487.20" y="592.80" font-size="11.2" font-weight="bold" text-anchor="middle" fill="#111" >Necrosis</text>
<text x="539.40" y="592.80" font-size="11.2" font-weight="bold" text-anchor="start" fill="#111" >Late Apoptosis</text>
<text x="652.10" y="592.80" font-size="11.2" font-weight="bold" text-anchor="middle" fill="#111" >Viable</text>
<text x="703.00" y="592.80" font-size="11.2" font-weight="bold" text-anchor="start" fill="#111" >Early Apoptosis</text>
<rect x="700" y="583" width="5.5" height="11" fill="#fff"/>
<rect x="539.2" y="584" width="2.4" height="7.4" fill="#fff" opacity="0.45"/>
<text transform="translate(420.80,466.50) rotate(-90)" font-size="12.2" font-weight="bold" text-anchor="middle" fill="#111" textLength="138.4" lengthAdjust="spacingAndGlyphs">Percentage of Cells (%)</text>
<text transform="translate(447.7,610.5) scale(0.95,1)" font-size="18" fill="#111" stroke="#111" stroke-width="0.21">D</text>
<rect x="460.1" y="344.40" width="15.2" height="7.1" fill="#d5d5d5" stroke="#333" stroke-width="1.2"/>
<rect x="460.1" y="361.80" width="15.2" height="7.1" fill="#828282" stroke="#333" stroke-width="1.2"/>
<rect x="460.1" y="379.10" width="15.2" height="7.1" fill="#606060" stroke="#333" stroke-width="1.2"/>
<text x="485.50" y="352.00" font-size="12" font-weight="normal" text-anchor="start" fill="#111" >Scrambled siRNA</text>
<text x="485.50" y="369.40" font-size="12" font-weight="normal" text-anchor="start" fill="#111" >POU2F1 siRNA 1</text>
<text x="485.50" y="386.60" font-size="12" font-weight="normal" text-anchor="start" fill="#111" >POU2F1 siRNA 2</text>
<line x1="83.00" y1="629.70" x2="83.00" y2="794.30" stroke="#858585" stroke-width="2.0"/>
<line x1="78.00" y1="794.50" x2="198.00" y2="794.50" stroke="#2a2a2a" stroke-width="1.1"/>
<line x1="78.40" y1="794.50" x2="82.20" y2="794.50" stroke="#1e1e1e" stroke-width="1.0"/>
<text x="76.20" y="798.30" font-size="11" font-weight="bold" text-anchor="end" fill="#111" >0</text>
<line x1="78.40" y1="773.50" x2="82.20" y2="773.50" stroke="#1e1e1e" stroke-width="1.0"/>
<text x="76.20" y="777.80" font-size="11" font-weight="bold" text-anchor="end" fill="#111" >20</text>
<line x1="78.40" y1="753.50" x2="82.20" y2="753.50" stroke="#1e1e1e" stroke-width="1.0"/>
<text x="76.20" y="757.30" font-size="11" font-weight="bold" text-anchor="end" fill="#111" >40</text>
<line x1="78.40" y1="732.50" x2="82.20" y2="732.50" stroke="#1e1e1e" stroke-width="1.0"/>
<text x="76.20" y="736.80" font-size="11" font-weight="bold" text-anchor="end" fill="#111" >60</text>
<line x1="78.40" y1="712.50" x2="82.20" y2="712.50" stroke="#1e1e1e" stroke-width="1.0"/>
<text x="76.20" y="716.30" font-size="11" font-weight="bold" text-anchor="end" fill="#111" >80</text>
<line x1="78.40" y1="691.50" x2="82.20" y2="691.50" stroke="#1e1e1e" stroke-width="1.0"/>
<text x="76.20" y="695.80" font-size="11" font-weight="bold" text-anchor="end" fill="#111" >100</text>
<line x1="78.40" y1="671.50" x2="82.20" y2="671.50" stroke="#1e1e1e" stroke-width="1.0"/>
<text x="76.20" y="675.30" font-size="11" font-weight="bold" text-anchor="end" fill="#111" >120</text>
<line x1="78.40" y1="650.50" x2="82.20" y2="650.50" stroke="#1e1e1e" stroke-width="1.0"/>
<text x="76.20" y="654.80" font-size="11" font-weight="bold" text-anchor="end" fill="#111" >140</text>
<line x1="78.40" y1="630.50" x2="82.20" y2="630.50" stroke="#1e1e1e" stroke-width="1.0"/>
<text x="76.20" y="634.30" font-size="11" font-weight="bold" text-anchor="end" fill="#111" >160</text>
<line x1="102.50" y1="691.80" x2="102.50" y2="638.50" stroke="#222" stroke-width="1.1"/>
<line x1="98.90" y1="638.50" x2="106.10" y2="638.50" stroke="#222" stroke-width="1.1"/>
<rect x="89.50" y="692.30" width="25.00" height="102.70" fill="#d3d3d3" stroke="#262626" stroke-width="1.0"/>
<line x1="102.50" y1="795.00" x2="102.50" y2="798.90" stroke="#1e1e1e" stroke-width="1.0"/>
<line x1="140.50" y1="714.96" x2="140.50" y2="683.50" stroke="#222" stroke-width="1.1"/>
<line x1="136.90" y1="683.50" x2="144.10" y2="683.50" stroke="#222" stroke-width="1.1"/>
<rect x="127.50" y="715.46" width="25.00" height="79.54" fill="#d3d3d3" stroke="#262626" stroke-width="1.0"/>
<line x1="140.50" y1="795.00" x2="140.50" y2="798.90" stroke="#1e1e1e" stroke-width="1.0"/>
<line x1="178.50" y1="713.94" x2="178.50" y2="708.50" stroke="#222" stroke-width="1.1"/>
<line x1="174.90" y1="708.50" x2="182.10" y2="708.50" stroke="#222" stroke-width="1.1"/>
<rect x="165.50" y="714.44" width="25.00" height="80.56" fill="#d3d3d3" stroke="#262626" stroke-width="1.0"/>
<line x1="178.50" y1="795.00" x2="178.50" y2="798.90" stroke="#1e1e1e" stroke-width="1.0"/>
<text transform="translate(105.6,809.8) rotate(-45)" font-size="10.2" font-weight="bold" text-anchor="end" fill="#111">Scrambled</text>
<text transform="translate(143.4,810.6) rotate(-45)" font-size="10.2" font-weight="bold" text-anchor="end" fill="#111">POU2F1 (1)</text>
<text transform="translate(181.4,810.6) rotate(-45)" font-size="10.2" font-weight="bold" text-anchor="end" fill="#111">POU2F1 (2)</text>
<text x="128.80" y="868.30" font-size="13.6" font-weight="bold" text-anchor="middle" fill="#111" >siRNA Target</text>
<text transform="translate(34.70,712.80) rotate(-90)" font-size="12.3" font-weight="bold" text-anchor="middle" fill="#111">Percentage Invasion</text>
<text transform="translate(48.90,712.80) rotate(-90)" font-size="12.1" font-weight="bold" text-anchor="middle" fill="#111">(% of Scrambled Control)</text>
<text transform="translate(38.4,822.9) scale(0.78,1)" font-size="18" fill="#111" stroke="#111" stroke-width="0.24">E</text>
</svg></body></html>
